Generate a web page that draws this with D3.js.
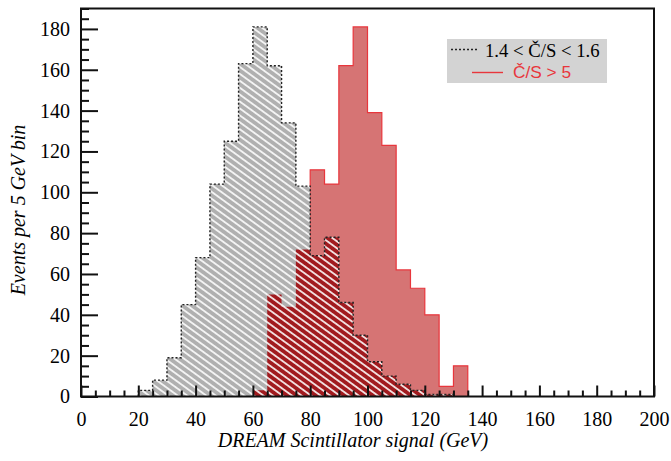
<!DOCTYPE html>
<html>
<head>
<meta charset="utf-8">
<script src="https://cdn.jsdelivr.net/npm/d3@7"></script>
<style>
  html, body { margin: 0; padding: 0; background: #fff; }
  svg { display: block; }
</style>
</head>
<body>
<svg id="chart" width="671" height="461"></svg>
<script>
// ---- data ----
const binWidth = 5;
const grayBinStarts = [20, 25, 30, 35, 40, 45, 50, 55, 60, 65, 70, 75, 80, 85, 90, 95, 100, 105, 110, 115, 120, 125];
const grayCounts    = [3, 8, 19, 45, 68, 104, 125, 163, 181, 162, 134, 103, 69, 78, 46, 30, 17, 10, 6, 3, 1, 1];
const redBinStarts  = [60, 65, 70, 75, 80, 85, 90, 95, 100, 105, 110, 115, 120, 125, 130];
const redCounts     = [3, 50, 44, 72, 111, 104, 162, 181, 139, 123, 62, 53, 40, 5, 15];
const xMajorTicks = [0, 20, 40, 60, 80, 100, 120, 140, 160, 180, 200];
const yMajorTicks = [0, 20, 40, 60, 80, 100, 120, 140, 160, 180];
const legendLabels = ["1.4 < \u010C/S < 1.6", "\u010C/S > 5"];
const xTitle = "DREAM Scintillator signal (GeV)";
const yTitle = "Events per 5 GeV bin";

// ---- layout ----
const L = 81, R = 654, T = 8.5, B = 396.5;
const x = d3.scaleLinear().domain([0, 200]).range([L, R]);
const y = d3.scaleLinear().domain([0, 190]).range([B, T]);

const svg = d3.select("#chart");
const defs = svg.append("defs");

function hatch(id, bg) {
  const p = defs.append("pattern")
    .attr("id", id)
    .attr("patternUnits", "userSpaceOnUse")
    .attr("width", 12).attr("height", 5.6)
    .attr("patternTransform", "rotate(36)");
  p.append("rect").attr("width", 12).attr("height", 5.6).attr("fill", bg);
  p.append("line").attr("x1", 0).attr("x2", 12).attr("y1", 2.8).attr("y2", 2.8)
    .attr("stroke", "#fff").attr("stroke-width", 1.6);
}
hatch("grayHatch", "#b0b0b0");
hatch("redHatch", "#a11b1f");

// step-path helper built from bins
function stepPoints(starts, counts) {
  const pts = [[starts[0], 0]];
  starts.forEach((s, i) => {
    pts.push([s, counts[i]]);
    pts.push([s + binWidth, counts[i]]);
  });
  pts.push([starts[starts.length - 1] + binWidth, 0]);
  return pts;
}
const line = d3.line().x(d => x(d[0])).y(d => y(d[1]));

const grayPts = stepPoints(grayBinStarts, grayCounts);
const redPts = stepPoints(redBinStarts, redCounts);

// overlap (minimum of both) bins
const ovStarts = [], ovCounts = [];
redBinStarts.forEach((s, i) => {
  const gi = grayBinStarts.indexOf(s);
  if (gi >= 0) { ovStarts.push(s); ovCounts.push(Math.min(redCounts[i], grayCounts[gi])); }
});
const ovPts = stepPoints(ovStarts, ovCounts);

// red histogram
svg.append("path").attr("d", line(redPts) + "Z")
  .attr("fill", "#d67474").attr("stroke", "#e8363c").attr("stroke-width", 1.2);
// gray hatched histogram
svg.append("path").attr("d", line(grayPts) + "Z")
  .attr("fill", "url(#grayHatch)").attr("stroke", "none");
// overlap
svg.append("path").attr("d", line(ovPts) + "Z")
  .attr("fill", "url(#redHatch)").attr("stroke", "none");
// gray dotted outline
svg.append("path").attr("d", line(grayPts))
  .attr("fill", "none").attr("stroke", "#222").attr("stroke-width", 1.4)
  .attr("stroke-dasharray", "2,2");

// ---- axes ----
const fontSerif = "'Liberation Serif', 'Times New Roman', serif";
const xMinor = d3.range(0, 201, 5).filter(v => v % 20 !== 0);
const yMinor = d3.range(0, 191, 5).filter(v => v % 20 !== 0);

const gx = svg.append("g").attr("transform", `translate(0,${B})`)
  .call(d3.axisBottom(x).tickValues(xMajorTicks).tickSize(-11).tickPadding(15).tickFormat(d3.format("d")));
const gxm = svg.append("g").attr("transform", `translate(0,${B})`)
  .call(d3.axisBottom(x).tickValues(xMinor).tickSize(-6).tickFormat(""));
const gy = svg.append("g").attr("transform", `translate(${L},0)`)
  .call(d3.axisLeft(y).tickValues(yMajorTicks).tickSize(-17).tickPadding(11).tickFormat(d3.format("d")));
const gym = svg.append("g").attr("transform", `translate(${L},0)`)
  .call(d3.axisLeft(y).tickValues(yMinor).tickSize(-8).tickFormat(""));

[gx, gxm, gy, gym].forEach(g => {
  g.select(".domain").remove();
  g.selectAll(".tick line").attr("stroke", "#111").attr("stroke-width", 2);
  g.selectAll(".tick text").attr("fill", "#000")
    .style("font-family", fontSerif).style("font-size", "20px");
});

// frame
svg.append("rect").attr("x", L).attr("y", T).attr("width", R - L).attr("height", B - T)
  .attr("fill", "none").attr("stroke", "#111").attr("stroke-width", 2);

// titles
svg.append("text").attr("x", 353).attr("y", 447).attr("text-anchor", "middle")
  .style("font-family", fontSerif).style("font-style", "italic").style("font-size", "20px")
  .attr("fill", "#000").text(xTitle);
svg.append("text").attr("transform", "translate(25,210) rotate(-90)").attr("text-anchor", "middle")
  .style("font-family", fontSerif).style("font-style", "italic").style("font-size", "20px")
  .attr("fill", "#000").text(yTitle);

// legend
const lg = svg.append("g");
lg.append("rect").attr("x", 447).attr("y", 39).attr("width", 160).attr("height", 44).attr("fill", "#d3d3d3");
lg.append("line").attr("x1", 451).attr("x2", 477).attr("y1", 49.5).attr("y2", 49.5)
  .attr("stroke", "#222").attr("stroke-width", 1.4).attr("stroke-dasharray", "2,2");
lg.append("text").attr("x", 485).attr("y", 56.5)
  .style("font-family", fontSerif).style("font-size", "18.7px").attr("fill", "#000").text(legendLabels[0]);
lg.append("line").attr("x1", 472).attr("x2", 503).attr("y1", 72.5).attr("y2", 72.5)
  .attr("stroke", "#e8363c").attr("stroke-width", 1.4);
lg.append("text").attr("x", 513).attr("y", 77.5)
  .style("font-family", "'Liberation Sans', Arial, sans-serif").style("font-size", "17.3px")
  .attr("fill", "#e8363c").text(legendLabels[1]);
</script>
</body>
</html>
